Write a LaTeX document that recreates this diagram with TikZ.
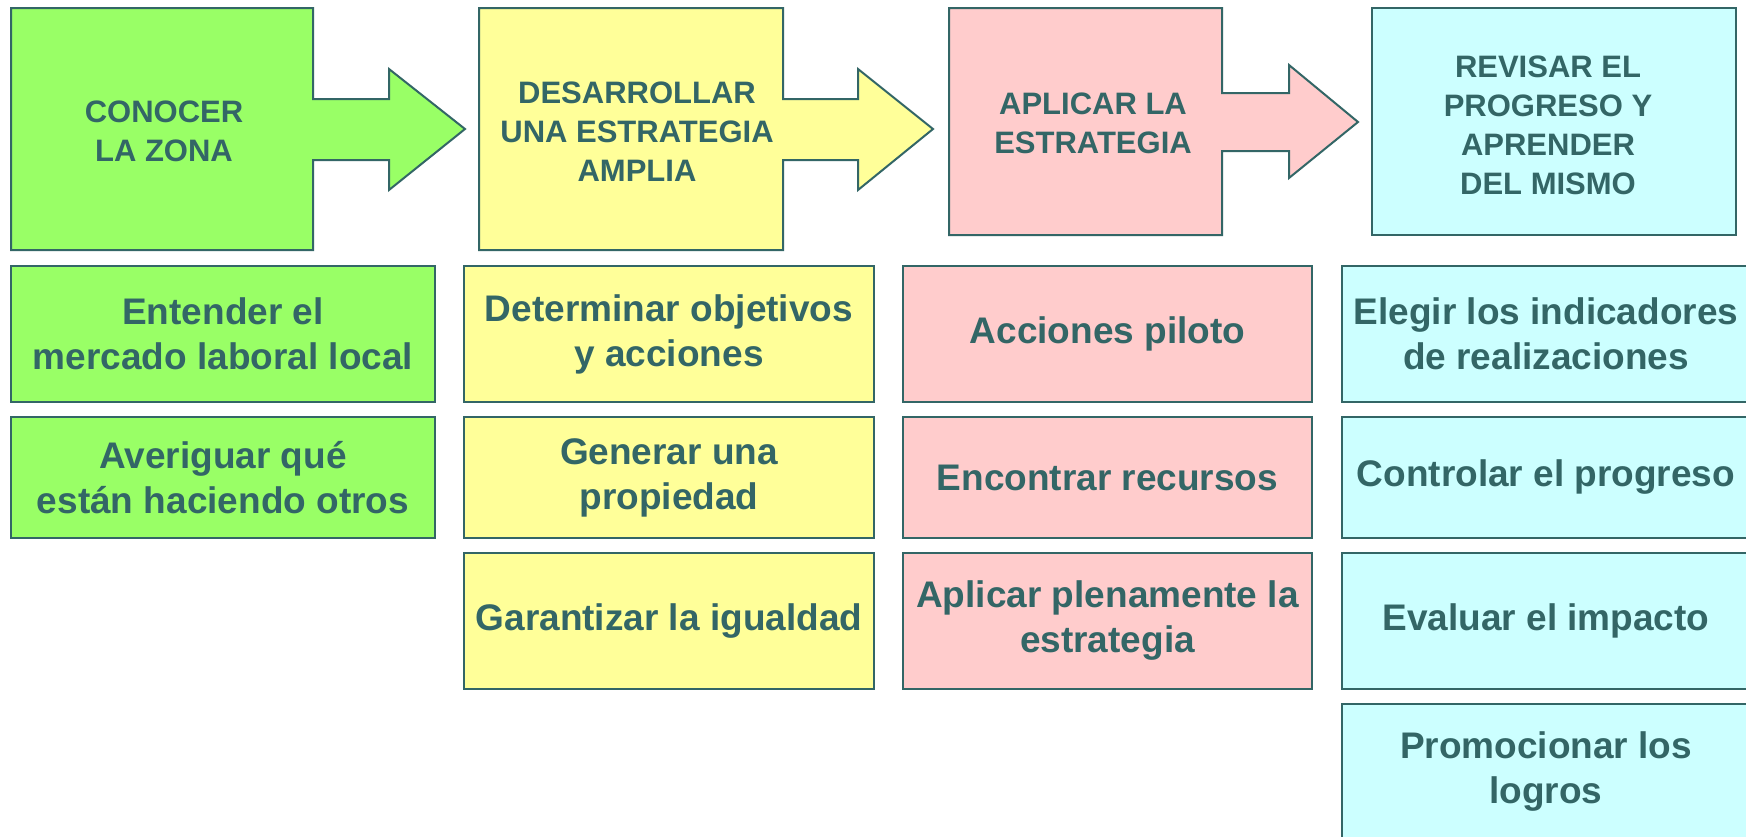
\documentclass[tikz,border=0pt]{standalone}
\usepackage{fontspec}
\setmainfont{Liberation Sans}
\definecolor{txt}{HTML}{336666}
\definecolor{edge}{HTML}{336666}
\definecolor{cgreen}{HTML}{99FF66}
\definecolor{cyellow}{HTML}{FFFF99}
\definecolor{cpink}{HTML}{FFCCCC}
\definecolor{ccyan}{HTML}{CCFFFF}
\tikzset{
  shapeline/.style={draw=edge, line width=2pt, line join=miter},
  headtext/.style={text=txt, align=center, inner sep=0pt, font=\fontsize{31}{39}\selectfont\bfseries},
  itembox/.style={draw=edge, line width=2pt, align=center, inner sep=0pt, text=txt,
    font=\fontsize{37}{45}\selectfont\bfseries},
}
\begin{document}
\begin{tikzpicture}[x=1pt,y=-1pt]
\path[use as bounding box, clip] (0,0) rectangle (1746,836);
\fill[white] (0,0) rectangle (1746,836);
% header arrows
\draw[shapeline, fill=cgreen] (11,8) -- (313,8) -- (313,99) -- (389,99) -- (389,69) -- (465,129) -- (389,190) -- (389,160) -- (313,160) -- (313,250) -- (11,250) -- cycle;
\draw[shapeline, fill=cyellow] (479,8) -- (783,8) -- (783,99) -- (858,99) -- (858,69) -- (933,129) -- (858,190) -- (858,160) -- (783,160) -- (783,250) -- (479,250) -- cycle;
\draw[shapeline, fill=cpink] (949,8) -- (1222,8) -- (1222,93) -- (1289,93) -- (1289,65) -- (1358,122) -- (1289,178) -- (1289,151) -- (1222,151) -- (1222,235) -- (949,235) -- cycle;
\draw[shapeline, fill=ccyan] (1372,8) rectangle (1736,235);
\node[headtext] (h1) at (164,131) {CONOCER\\LA ZONA};
\node[headtext] (h2) at (637,132) {DESARROLLAR\\UNA ESTRATEGIA\\AMPLIA};
\node[headtext] (h3) at (1093,123) {APLICAR LA\\ESTRATEGIA};
\node[headtext] (h4) at (1548,125) {REVISAR EL\\PROGRESO Y\\APRENDER\\DEL MISMO};
% green column
\node[itembox, fill=cgreen, minimum width=424pt, minimum height=136pt] (g1) at (223,334) {Entender el\\mercado laboral local};
\node[itembox, fill=cgreen, minimum width=424pt, minimum height=121pt] (g2) at (223,477.5) {Averiguar qué\\están haciendo otros};
% yellow column
\node[itembox, fill=cyellow, minimum width=410pt, minimum height=136pt] (y1) at (669,334) {Determinar objetivos\\y acciones};
\node[itembox, fill=cyellow, minimum width=410pt, minimum height=121pt] (y2) at (669,477.5) {Generar una\\propiedad};
\node[itembox, fill=cyellow, minimum width=410pt, minimum height=136pt] (y3) at (669,621) {Garantizar la igualdad};
% pink column
\node[itembox, fill=cpink, minimum width=409pt, minimum height=136pt] (p1) at (1107.5,334) {Acciones piloto};
\node[itembox, fill=cpink, minimum width=409pt, minimum height=121pt] (p2) at (1107.5,477.5) {Encontrar recursos};
\node[itembox, fill=cpink, minimum width=409pt, minimum height=136pt] (p3) at (1107.5,621) {Aplicar plenamente la\\estrategia};
% cyan column
\node[itembox, fill=ccyan, minimum width=408pt, minimum height=136pt] (c1) at (1546,334) {Elegir los indicadores\\de realizaciones};
\node[itembox, fill=ccyan, minimum width=408pt, minimum height=121pt] (c2) at (1546,477.5) {Controlar el progreso};
\node[itembox, fill=ccyan, minimum width=408pt, minimum height=136pt] (c3) at (1546,621) {Evaluar el impacto};
\node[itembox, fill=ccyan, minimum width=408pt, minimum height=136pt] (c4) at (1546,772) {Promocionar los\\logros};
\end{tikzpicture}
\end{document}
